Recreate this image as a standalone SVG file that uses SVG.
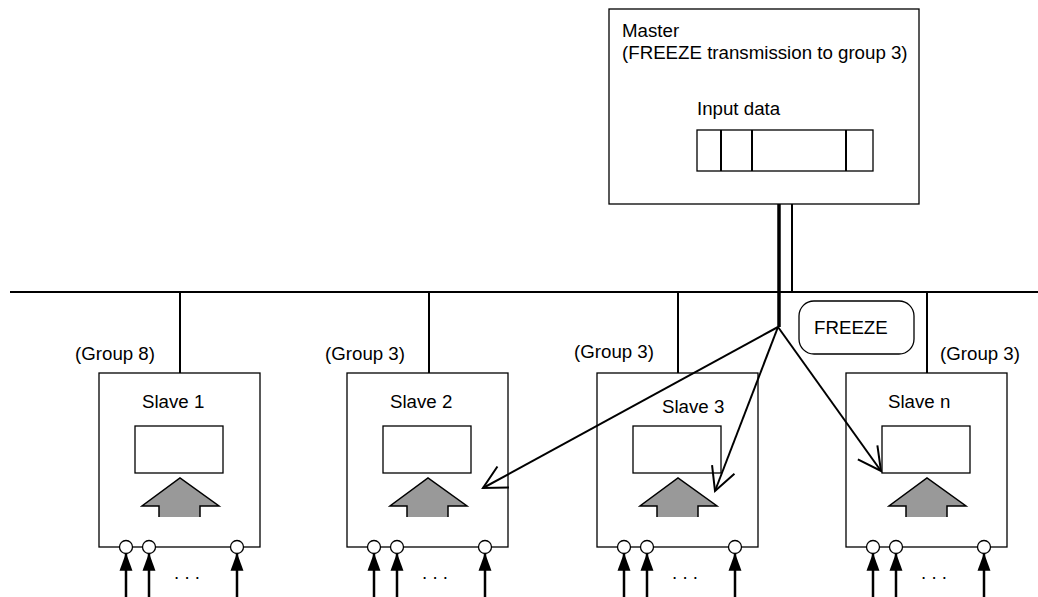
<svg xmlns="http://www.w3.org/2000/svg" width="1038" height="597" viewBox="0 0 1038 597">
<style>
text{font-family:"Liberation Sans",Arial,sans-serif;font-size:18.7px;fill:#000}
.box{fill:#fff;stroke:#000;stroke-width:1.3}
.ln{stroke:#000;stroke-width:2;fill:none}
.gray{fill:#999;stroke:none}
.grayo{fill:none;stroke:#000;stroke-width:1.5;stroke-linejoin:miter}
.pin{fill:#fff;stroke:#000;stroke-width:1.3}
.inp{stroke:#000;stroke-width:2.5;marker-end:url(#tri)}
</style>
<defs>
<marker id="open" markerUnits="userSpaceOnUse" markerWidth="30" markerHeight="30" viewBox="-26 -15 30 30" refX="0" refY="0" orient="auto" overflow="visible">
<path d="M-23,-12 L0,0 L-23,12" fill="none" stroke="#000" stroke-width="2"/>
</marker>
<marker id="tri" markerUnits="userSpaceOnUse" markerWidth="20" markerHeight="20" viewBox="-16 -7 17 14" refX="0" refY="0" orient="auto" overflow="visible">
<path d="M-15,-5.5 L0,0 L-15,5.5 Z" fill="#000"/>
</marker>
</defs>

<g id="connectors">
<line class="ln" x1="10" y1="292" x2="1038" y2="292"/>
<line x1="779" y1="204" x2="779" y2="327" stroke="#000" stroke-width="3.5"/>
<line class="ln" x1="792" y1="204" x2="792" y2="292"/>
<line class="ln" x1="180" y1="292" x2="180" y2="373"/>
<line class="ln" x1="429" y1="292" x2="429" y2="373"/>
<line class="ln" x1="678" y1="292" x2="678" y2="373"/>
<line class="ln" x1="927" y1="292" x2="927" y2="373"/>
</g>

<g id="master">
<rect class="box" x="609" y="9" width="310" height="195"/>
<text x="622" y="37">Master</text>
<text x="622" y="59">(FREEZE transmission to group 3)</text>
<text x="697" y="115">Input data</text>
<rect class="box" x="697" y="130" width="176" height="41"/>
<line class="ln" x1="721" y1="130" x2="721" y2="171"/>
<line class="ln" x1="752" y1="130" x2="752" y2="171"/>
<line class="ln" x1="846" y1="130" x2="846" y2="171"/>
</g>

<g id="freeze-label">
<rect class="box" x="799" y="301" width="115" height="53" rx="15" ry="15"/>
<text x="814" y="334">FREEZE</text>
</g>

<g id="slave1" transform="translate(99,0)">
<text x="-24" y="360">(Group 8)</text>
<rect class="box" x="0" y="373" width="161" height="174"/>
<text x="43" y="408">Slave 1</text>
<rect class="box" x="36" y="426" width="88" height="47"/>
<polygon class="gray" points="81,478 120,506 101,506 101,517 60,517 60,506 43,506"/>
<polyline class="grayo" points="60,517 60,506 43,506 81,478 120,506 101,506 101,517"/>
<line class="inp" x1="27" y1="597" x2="27" y2="553"/>
<line class="inp" x1="50" y1="597" x2="50" y2="553"/>
<line class="inp" x1="138" y1="597" x2="138" y2="553"/>
<circle class="pin" cx="27" cy="547" r="6.5"/>
<circle class="pin" cx="50" cy="547" r="6.5"/>
<circle class="pin" cx="138" cy="547" r="6.5"/>
<text x="75" y="579">. . .</text>
</g>

<g id="slave2" transform="translate(347,0)">
<text x="-22" y="360">(Group 3)</text>
<rect class="box" x="0" y="373" width="161" height="174"/>
<text x="43" y="408">Slave 2</text>
<rect class="box" x="36" y="426" width="88" height="47"/>
<polygon class="gray" points="81,478 120,506 101,506 101,517 60,517 60,506 43,506"/>
<polyline class="grayo" points="60,517 60,506 43,506 81,478 120,506 101,506 101,517"/>
<line class="inp" x1="27" y1="597" x2="27" y2="553"/>
<line class="inp" x1="50" y1="597" x2="50" y2="553"/>
<line class="inp" x1="138" y1="597" x2="138" y2="553"/>
<circle class="pin" cx="27" cy="547" r="6.5"/>
<circle class="pin" cx="50" cy="547" r="6.5"/>
<circle class="pin" cx="138" cy="547" r="6.5"/>
<text x="75" y="579">. . .</text>
</g>

<g id="slave3" transform="translate(597,0)">
<text x="-23" y="358">(Group 3)</text>
<rect class="box" x="0" y="373" width="161" height="174"/>
<text x="65" y="413">Slave 3</text>
<rect class="box" x="36" y="426" width="88" height="47"/>
<polygon class="gray" points="81,478 120,506 101,506 101,517 60,517 60,506 43,506"/>
<polyline class="grayo" points="60,517 60,506 43,506 81,478 120,506 101,506 101,517"/>
<line class="inp" x1="27" y1="597" x2="27" y2="553"/>
<line class="inp" x1="50" y1="597" x2="50" y2="553"/>
<line class="inp" x1="138" y1="597" x2="138" y2="553"/>
<circle class="pin" cx="27" cy="547" r="6.5"/>
<circle class="pin" cx="50" cy="547" r="6.5"/>
<circle class="pin" cx="138" cy="547" r="6.5"/>
<text x="75" y="579">. . .</text>
</g>

<g id="slaven" transform="translate(846,0)">
<text x="94" y="360">(Group 3)</text>
<rect class="box" x="0" y="373" width="161" height="174"/>
<text x="42" y="408">Slave n</text>
<rect class="box" x="36" y="426" width="88" height="47"/>
<polygon class="gray" points="81,478 120,506 101,506 101,517 60,517 60,506 43,506"/>
<polyline class="grayo" points="60,517 60,506 43,506 81,478 120,506 101,506 101,517"/>
<line class="inp" x1="27" y1="597" x2="27" y2="553"/>
<line class="inp" x1="50" y1="597" x2="50" y2="553"/>
<line class="inp" x1="138" y1="597" x2="138" y2="553"/>
<circle class="pin" cx="27" cy="547" r="6.5"/>
<circle class="pin" cx="50" cy="547" r="6.5"/>
<circle class="pin" cx="138" cy="547" r="6.5"/>
<text x="75" y="579">. . .</text>
</g>

<g id="freeze-arrows">
<line class="ln" x1="778" y1="327" x2="483" y2="488" marker-end="url(#open)"/>
<line class="ln" x1="778" y1="327" x2="715" y2="491" marker-end="url(#open)"/>
<line class="ln" x1="778" y1="327" x2="881" y2="471" marker-end="url(#open)"/>
</g>
</svg>
